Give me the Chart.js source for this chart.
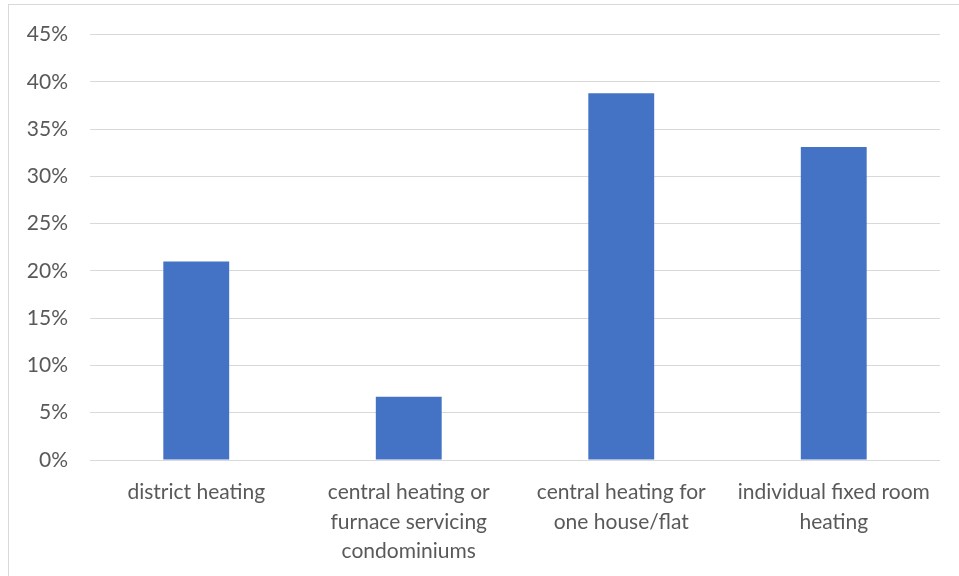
<!DOCTYPE html>
<html>
<head>
<meta charset="utf-8">
<script src="https://cdn.jsdelivr.net/npm/chart.js@4/dist/chart.umd.min.js"></script>
<style>
  html, body { margin: 0; padding: 0; background: #fff; overflow: hidden; }
  #frame { position: absolute; left: 8px; top: 4px; width: 1000px; height: 1000px; border: 1px solid #d9d9d9; }
  #wrap { position: absolute; left: 0; top: 0; width: 959px; height: 576px; }
</style>
</head>
<body>
<div id="frame"></div>
<div id="wrap"><canvas id="bars"></canvas></div>
<script>
var categories = [
    'district heating',
    ['central heating or', 'furnace servicing', 'condominiums'],
    ['central heating for', 'one house/flat'],
    ['individual fixed room', 'heating']
];
var shares = [21.0, 6.7, 38.8, 33.1];
var yTicks = [0, 5, 10, 15, 20, 25, 30, 35, 40, 45];

var graph = document.getElementById('bars').getContext('2d');
var myChart = new Chart(graph, {
    type: 'bar',
    data: {
        labels: categories,
        datasets: [{
            data: shares,
            backgroundColor: '#4472c4',
            barPercentage: 0.31,
            categoryPercentage: 1
        }]
    },
    options: {
        responsive: true,
        maintainAspectRatio: false,
        animation: false,
        layout: { padding: { top: 34, right: 19, left: 0, bottom: 0 } },
        plugins: { legend: { display: false }, tooltip: { enabled: false } },
        scales: {
            x: {
                grid: { display: false },
                border: { display: false },
                ticks: {
                    color: '#595959',
                    font: { family: 'Lato', size: 21, lineHeight: 1.4 },
                    padding: 10,
                    maxRotation: 0,
                    autoSkip: false
                },
                afterFit: function (scale) { scale.height = 116; }
            },
            y: {
                min: 0,
                max: 45,
                afterBuildTicks: function (scale) {
                    scale.ticks = yTicks.map(function (v) { return { value: v }; });
                },
                grid: { color: '#d9d9d9', lineWidth: 1, drawTicks: false },
                border: { display: false },
                ticks: {
                    color: '#595959',
                    font: { family: 'Lato', size: 21 },
                    padding: 22,
                    callback: function (v) { return v + '%'; }
                },
                afterFit: function (scale) { scale.width = 90; }
            }
        }
    }
});
</script>
</body>
</html>
